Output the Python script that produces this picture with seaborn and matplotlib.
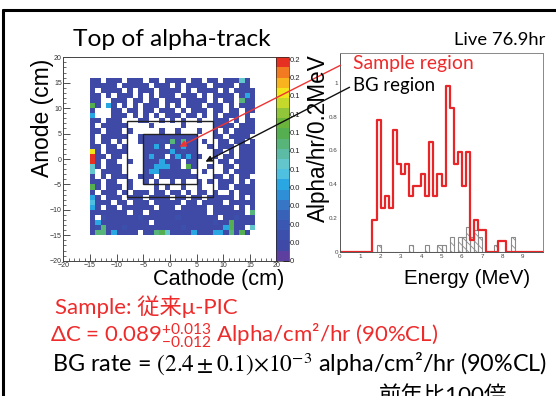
import numpy as np
import pandas as pd
import matplotlib
matplotlib.use("Agg")
import matplotlib.pyplot as plt
import seaborn as sns
from matplotlib.colors import ListedColormap
from matplotlib.patches import Rectangle, FancyArrowPatch
from matplotlib.lines import Line2D
from matplotlib.ticker import MultipleLocator

# ---------------- data ----------------
live_hours = 76.9
# hit counts per 1x1 cm cell; rows y = 15 .. -15 (top to bottom), cols x = -15 .. 15
# '.' = 0, '1'..'9' = 1..9, 'a'..'h' = 10..17
count_code = ".123456789abcdefgh"
hit_rows = [
    "11.11 1.111 .11.1 111.1 1.11. 11181 .",
    "11111 .1111 1.111 .1.11 11.11 11.11 .",
    "1.111 1.1.1 11.11 11.1. 1111. 1.111 1",
    "11.1. 111.1 .1.11 1.111 .1.11 11.16 1",
    "11..1 11.11 .11.1 11.11 11.1. 11.a1 1",
    "b1.61 .1.1. 111.1 .1.11 1.111 .1.11 1",
    "1...1 1.11. 11.11 1.1.1 11.11 .11.1 1",
    "6...1 11.1. 1.1.1 11.11 .1.1. 111.1 .",
    "11.11 1...1 1..1. 1.1.. 1..11 1.1.1 1",
    "1.111 11... .1... ..1.. ...11 11.11 1",
    "11.11 1.1.. ...1. .1... 1..1. 1.111 1",
    "1.111 11..1 11111 11111 ...11 .1111 .",
    "1.11. 1...1 11121 a1a11 .1..1 1.11. 1",
    "11.11 .1... 1161. 11611 ..1.1 11.11 1",
    "e1.11 11... 11111 61211 ...11 .1.11 1",
    "h11.1 1.... 1611. 16161 1..1. 11.11 1",
    "h1.11 ..1.. 11161 11.11 ....1 1.111 1",
    "81.11 1.... 11666 11.b1 ..1.. 11.11 1",
    "8.111 1.... 16611 1111. .1... 1.111 1",
    "1.1.1 11..1 11.11 11111 ...11 .1.11 .",
    "11.11 ..1.. 1.1.. 1.1.. 1.1.1 11.1. 1",
    "b1.11 1.1.. ..1.1 ..1.. 1...1 1.111 1",
    "1.111 .1.11 1.11. 11.1. 11.1. .1.11 1",
    "61.11 1.111 .1111 .11.1 1.111 11.1. 1",
    "7111. 11.11 1.111 11.11 .1111 .1111 1",
    "61.11 .1111 11.11 1.111 11.11 11.1. 1",
    "11111 11.11 .1111 11111 11.11 1111. a",
    "1.211 11112 11111 12111 1111. 11211 1",
    "16111 11111 1.111 11111 11121 1b111 1",
    "12a11 12111 11111 11211 11111 6b11. 8",
    "1aa16 1111. 11ab8 11116 11166 1a1b1 .",
]
x_first_cm, y_top_cm = -15, 15
axis_lim_cm = 20

# colour levels of the z axis (ROOT style palette, 20 contours)
palette = ["#5c3f9f", "#3f4aa6", "#3c50ab", "#3a57b1", "#3862b8", "#3776c4",
           "#2f8fd6", "#2aa7e3", "#4fc0e0", "#62c6cc", "#5cbba4", "#57b57a",
           "#55ae50", "#6ab43c", "#92c63a", "#c5d82c", "#f2e51c", "#f8b41e",
           "#f27a20", "#e63022"]
z_max = 0.222
cbar_ticks = [0, 0.02, 0.04, 0.06, 0.08, 0.1, 0.12, 0.14, 0.16, 0.18, 0.2, 0.22]
cbar_labels = ["0", "0.0", "0.0", "0.0", "0.0", "0.1", "0.1", "0.1", "0.1", "0.1", "0.2", "0.2"]

# region boxes (cm): x0, x1, y0, y1
sample_box = (-5, 5, -5, 5)
bg_box = (-8, 8, -7.5, 7.5)

# energy spectra, 0.2 MeV bins from 0 to 10 MeV
energy_edges = [round(0.2 * i, 1) for i in range(51)]
sample_rate = [0, 0, 0, 0, 0, 0, 0, 0, 0.19, 0.78,
               0.26, 0.33, 0.26, 0.72, 0.52, 0.46, 0.52, 0.33, 0.39, 0.39,
               0.46, 0.33, 0.65, 0.33, 0.46, 0.39, 0.98, 0.85, 0.52, 0.59,
               0.39, 0.59, 0.07, 0.19, 0.13, 0.13, 0, 0, 0, 0.065,
               0.065, 0, 0, 0, 0, 0, 0, 0, 0, 0]
bg_rate = [0, 0, 0, 0, 0, 0, 0, 0, 0, 0.04,
           0, 0, 0, 0, 0, 0, 0, 0.04, 0, 0,
           0, 0.04, 0, 0, 0.04, 0.04, 0, 0.09, 0, 0.09,
           0.09, 0.15, 0.09, 0.13, 0.09, 0, 0, 0, 0.04, 0,
           0, 0, 0.09, 0, 0, 0, 0, 0, 0, 0]
energy_ticks = [0, 1, 2, 3, 4, 5, 6, 7, 8, 9]
rate_ticks = [0, 0.2, 0.4, 0.6, 0.8, 1]

# ---------------- build grid ----------------
n = 2 * axis_lim_cm
grid = np.full((n, n), np.nan)
for i, row in enumerate(hit_rows):
    cells = row.replace(" ", "")
    y_cm = y_top_cm - i
    for j, ch in enumerate(cells):
        c = count_code.index(ch)
        if c > 0:
            x_cm = x_first_cm + j
            grid[axis_lim_cm - 1 - y_cm, x_cm + axis_lim_cm] = c / live_hours

def xi(x_cm):
    return x_cm + axis_lim_cm

def yi(y_cm):
    return axis_lim_cm - y_cm

# ---------------- figure ----------------
sns.set_style("white")
plt.rcParams["font.family"] = ["Liberation Sans", "DejaVu Sans"]
plt.rcParams["hatch.linewidth"] = 0.6
plt.rcParams["mathtext.fontset"] = "custom"
plt.rcParams["mathtext.rm"] = "Lato"
plt.rcParams["mathtext.it"] = "Lato:italic"
plt.rcParams["mathtext.bf"] = "Lato:bold"

W, H = 556, 396
fig = plt.figure(figsize=(W / 100, H / 100), dpi=100)
fig.patch.set_facecolor("white")

def frect(x0, y0, x1, y1):
    return [x0 / W, 1 - y1 / H, (x1 - x0) / W, (y1 - y0) / H]

ax = fig.add_axes(frect(63.3, 57.3, 276.7, 260.7))
cax = fig.add_axes(frect(275.5, 57.3, 288.5, 260.7))
axh = fig.add_axes(frect(340, 53.3, 543, 252))

cmap = ListedColormap(palette)
sns.heatmap(grid, ax=ax, cmap=cmap, vmin=0, vmax=z_max, cbar_ax=cax,
            mask=np.isnan(grid), xticklabels=False, yticklabels=False,
            cbar_kws={"ticks": cbar_ticks})
for s in ax.spines.values():
    s.set_visible(True)
    s.set_linewidth(0.7)
    s.set_color("#444444")
ax.set_xlim(0, n)
ax.set_ylim(n, 0)
tick_vals = list(range(-20, 21, 5))
ax.set_xticks([xi(v) for v in tick_vals])
ax.set_xticklabels([str(v).replace("-", "\u2212") for v in tick_vals])
ax.set_yticks([yi(v) for v in tick_vals])
ax.set_yticklabels([str(v).replace("-", "\u2212") for v in tick_vals])
ax.xaxis.set_minor_locator(MultipleLocator(1))
ax.yaxis.set_minor_locator(MultipleLocator(1))
ax.tick_params(which="major", direction="in", length=5, width=0.6, labelsize=5,
               pad=1.0, bottom=True, left=True, top=False, right=False, colors="#333333")
ax.tick_params(which="minor", direction="in", length=2.5, width=0.5,
               bottom=True, left=True, top=False, right=False, colors="#333333")

for (x0, x1, y0, y1) in (sample_box, bg_box):
    ax.add_patch(Rectangle((xi(x0), yi(y1)), x1 - x0, y1 - y0, fill=False,
                           edgecolor="#222222", lw=1.0, zorder=5))

cax.set_yticklabels(cbar_labels)
cax.tick_params(direction="in", length=4, width=0.7, labelsize=5.5, pad=1, colors="#222222")
for s in cax.spines.values():
    s.set_linewidth(0.5)

# energy spectra
centers = [round(e + 0.1, 2) for e in energy_edges[:-1]]
spec = pd.DataFrame({"energy": centers, "sample": sample_rate, "bg": bg_rate})
sns.histplot(data=spec, x="energy", weights="bg", bins=energy_edges, element="bars",
             fill=False, color="#8a8a8a", linewidth=0.8, ax=axh)
for p in axh.patches:
    p.set_hatch("\\\\\\\\")
sns.histplot(data=spec, x="energy", weights="sample", bins=energy_edges, element="step",
             fill=False, color="#e8262a", linewidth=1.6, ax=axh)
axh.set_xlim(0, 10)
axh.set_ylim(0, 1.174)
axh.set_xlabel("")
axh.set_ylabel("")
axh.set_xticks(energy_ticks)
axh.set_yticks(rate_ticks)
axh.set_yticklabels(["0", "0.2", "0.4", "0.6", "0.8", "1"])
axh.xaxis.set_minor_locator(MultipleLocator(0.2))
axh.yaxis.set_minor_locator(MultipleLocator(0.05))
axh.tick_params(which="major", direction="in", length=5, width=0.6, labelsize=4.5,
                pad=1.5, colors="#444444")
axh.tick_params(which="minor", direction="in", length=2.5, width=0.5, colors="#444444")
for s in axh.spines.values():
    s.set_linewidth(0.7)
    s.set_color("#888888")
axh.spines["left"].set_color("#555555")
axh.spines["bottom"].set_color("#555555")

# ---------------- texts ----------------
slide_fam = ["Lato", "DejaVu Sans", "Noto Sans CJK JP"]
root_fam = ["Liberation Sans", "DejaVu Sans"]
renderer = fig.canvas.get_renderer()

def put(text, x0, x1, yc, color="black", family=slide_fam, **kw):
    t = fig.text(x0 / W, 1 - yc / H, text, ha="left", va="center", color=color,
                 family=family, fontsize=12, **kw)
    bb = t.get_window_extent(renderer)
    t.set_fontsize(12 * (x1 - x0) / bb.width)
    return t

def put_center(text, xc, yc, span, color="black", family=root_fam, rotation=0):
    t = fig.text(xc / W, 1 - yc / H, text, ha="center", va="center", color=color,
                 family=family, fontsize=12, rotation=rotation)
    bb = t.get_window_extent(renderer)
    size = bb.height if rotation else bb.width
    t.set_fontsize(12 * span / size)
    return t

put("Top of alpha-track", 73, 270, 40)
put("Live 76.9hr", 454, 545, 40)
put("Sample region", 353, 473, 64, color="#ee2b2b")
put("BG region", 353, 435, 86)
put_center("Anode (cm)", 42, 118, 119, rotation=90)
put_center("Cathode (cm)", 219, 279, 132)
put_center("Energy (MeV)", 467, 279, 127)
put_center("Alpha/hr/0.2MeV", 318, 138, 168, rotation=90)

put("Sample: 従来μ-PIC", 55, 237, 307, color="#ee2b2b")
put("ΔC = 0.089$^{+0.013}_{-0.012}$ Alpha/cm²/hr (90%CL)", 50, 437, 336, color="#ee2b2b")
put("BG rate = $(2.4 \\pm 0.1){\\times}10^{-3}$ alpha/cm²/hr (90%CL)", 52, 546, 364,
    math_fontfamily="stix")
put("前年比100倍", 379, 507, 396)

# arrows from labels into the map
fig.add_artist(FancyArrowPatch((343 / W, 1 - 64 / H), (177 / W, 1 - 148 / H),
                               transform=fig.transFigure, arrowstyle="-|>",
                               mutation_scale=9, color="#ee3333", lw=1.0))
fig.add_artist(FancyArrowPatch((352 / W, 1 - 86 / H), (203 / W, 1 - 163 / H),
                               transform=fig.transFigure, arrowstyle="-|>",
                               mutation_scale=9, color="#111111", lw=1.0))

# slide frame
fig.add_artist(Line2D([3 / W, 1], [1 - 10 / H, 1 - 10 / H], transform=fig.transFigure,
                      color="black", lw=2.2))
fig.add_artist(Line2D([3 / W, 3 / W], [0, 1 - 10 / H], transform=fig.transFigure,
                      color="black", lw=2.2))

fig.savefig("out.png", dpi=100, facecolor="white")
